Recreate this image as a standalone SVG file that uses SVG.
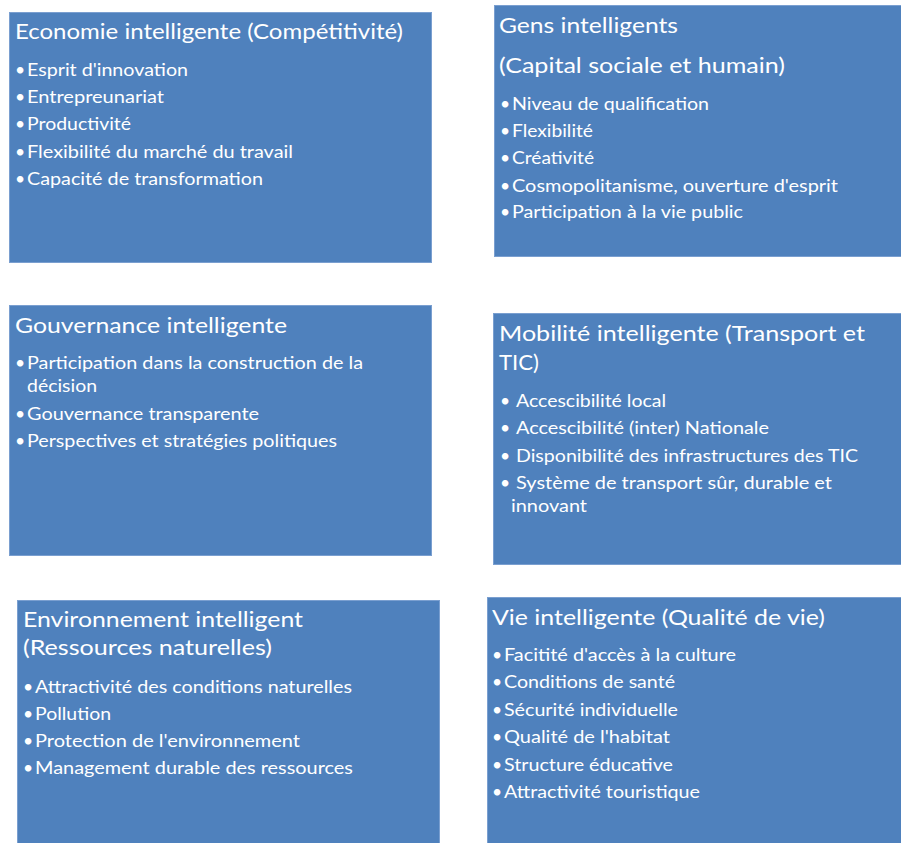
<svg xmlns="http://www.w3.org/2000/svg" width="901" height="843" viewBox="0 0 901 843">
<style>
.box{fill:#4F81BD;stroke:#7A9FD0;stroke-width:1}
.t{font-family:Lato,"Open Sans","Liberation Sans",sans-serif;font-size:21px;fill:#FFFFFF}
.b{font-family:Lato,"Open Sans","Liberation Sans",sans-serif;font-size:17.5px;fill:#FFFFFF}
</style>
<rect width="901" height="843" fill="#FFFFFF"/>
<g id="economie">
<rect class="box" x="9.5" y="12.5" width="422" height="250"/>
<text class="t" x="15" y="39" textLength="388" lengthAdjust="spacingAndGlyphs">Economie intelligente (Compétitivité)</text>
<text class="b" x="15" y="76">•</text><text class="b" x="27" y="76" textLength="161" lengthAdjust="spacingAndGlyphs">Esprit d'innovation</text>
<text class="b" x="15" y="103">•</text><text class="b" x="27" y="103" textLength="137" lengthAdjust="spacingAndGlyphs">Entrepreunariat</text>
<text class="b" x="15" y="130">•</text><text class="b" x="27" y="130" textLength="104" lengthAdjust="spacingAndGlyphs">Productivité</text>
<text class="b" x="15" y="158">•</text><text class="b" x="27" y="158" textLength="266" lengthAdjust="spacingAndGlyphs">Flexibilité du marché du travail</text>
<text class="b" x="15" y="185">•</text><text class="b" x="27" y="185" textLength="236" lengthAdjust="spacingAndGlyphs">Capacité de transformation</text>
</g>
<g id="gens">
<rect class="box" x="494.5" y="5.5" width="410" height="251"/>
<text class="t" x="499" y="33" textLength="179" lengthAdjust="spacingAndGlyphs">Gens intelligents</text>
<text class="t" x="499" y="73" textLength="286" lengthAdjust="spacingAndGlyphs">(Capital sociale et humain)</text>
<text class="b" x="500" y="110">•</text><text class="b" x="512" y="110" textLength="197" lengthAdjust="spacingAndGlyphs">Niveau de qualification</text>
<text class="b" x="500" y="137">•</text><text class="b" x="512" y="137" textLength="81" lengthAdjust="spacingAndGlyphs">Flexibilité</text>
<text class="b" x="500" y="164">•</text><text class="b" x="512" y="164" textLength="82" lengthAdjust="spacingAndGlyphs">Créativité</text>
<text class="b" x="500" y="192">•</text><text class="b" x="512" y="192" textLength="326" lengthAdjust="spacingAndGlyphs">Cosmopolitanisme, ouverture d'esprit</text>
<text class="b" x="500" y="218">•</text><text class="b" x="512" y="218" textLength="231" lengthAdjust="spacingAndGlyphs">Participation à la vie public</text>
</g>
<g id="gouvernance">
<rect class="box" x="9.5" y="305.5" width="422" height="250"/>
<text class="t" x="15" y="333" textLength="272" lengthAdjust="spacingAndGlyphs">Gouvernance intelligente</text>
<text class="b" x="15" y="369">•</text><text class="b" x="27" y="369" textLength="336" lengthAdjust="spacingAndGlyphs">Participation dans la construction de la</text>
<text class="b" x="27" y="392" textLength="70" lengthAdjust="spacingAndGlyphs">décision</text>
<text class="b" x="15" y="420">•</text><text class="b" x="27" y="420" textLength="232" lengthAdjust="spacingAndGlyphs">Gouvernance transparente</text>
<text class="b" x="15" y="447">•</text><text class="b" x="27" y="447" textLength="310" lengthAdjust="spacingAndGlyphs">Perspectives et stratégies politiques</text>
</g>
<g id="mobilite">
<rect class="box" x="493.5" y="313.5" width="410" height="251"/>
<text class="t" x="499" y="341" textLength="366" lengthAdjust="spacingAndGlyphs">Mobilité intelligente (Transport et</text>
<text class="t" x="499" y="370" textLength="40" lengthAdjust="spacingAndGlyphs">TIC)</text>
<text class="b" x="500" y="407">•</text><text class="b" x="516" y="407" textLength="150" lengthAdjust="spacingAndGlyphs">Accescibilité local</text>
<text class="b" x="500" y="434">•</text><text class="b" x="516" y="434" textLength="253" lengthAdjust="spacingAndGlyphs">Accescibilité (inter) Nationale</text>
<text class="b" x="500" y="462">•</text><text class="b" x="516" y="462" textLength="342" lengthAdjust="spacingAndGlyphs">Disponibilité des infrastructures des TIC</text>
<text class="b" x="500" y="489">•</text><text class="b" x="516" y="489" textLength="316" lengthAdjust="spacingAndGlyphs">Système de transport sûr, durable et</text>
<text class="b" x="511" y="512" textLength="76" lengthAdjust="spacingAndGlyphs">innovant</text>
</g>
<g id="environnement">
<rect class="box" x="17.5" y="600.5" width="422" height="250"/>
<text class="t" x="23" y="627" textLength="280" lengthAdjust="spacingAndGlyphs">Environnement intelligent</text>
<text class="t" x="23" y="655" textLength="249" lengthAdjust="spacingAndGlyphs">(Ressources naturelles)</text>
<text class="b" x="23" y="693">•</text><text class="b" x="35" y="693" textLength="317" lengthAdjust="spacingAndGlyphs">Attractivité des conditions naturelles</text>
<text class="b" x="23" y="720">•</text><text class="b" x="35" y="720" textLength="76" lengthAdjust="spacingAndGlyphs">Pollution</text>
<text class="b" x="23" y="747">•</text><text class="b" x="35" y="747" textLength="265" lengthAdjust="spacingAndGlyphs">Protection de l'environnement</text>
<text class="b" x="23" y="774">•</text><text class="b" x="35" y="774" textLength="318" lengthAdjust="spacingAndGlyphs">Management durable des ressources</text>
</g>
<g id="vie">
<rect class="box" x="487.5" y="597.5" width="420" height="260"/>
<text class="t" x="492" y="625" textLength="333" lengthAdjust="spacingAndGlyphs">Vie intelligente (Qualité de vie)</text>
<text class="b" x="492" y="661">•</text><text class="b" x="504" y="661" textLength="232" lengthAdjust="spacingAndGlyphs">Facitité d'accès à la culture</text>
<text class="b" x="492" y="688">•</text><text class="b" x="504" y="688" textLength="171" lengthAdjust="spacingAndGlyphs">Conditions de santé</text>
<text class="b" x="492" y="716">•</text><text class="b" x="504" y="716" textLength="174" lengthAdjust="spacingAndGlyphs">Sécurité individuelle</text>
<text class="b" x="492" y="743">•</text><text class="b" x="504" y="743" textLength="166" lengthAdjust="spacingAndGlyphs">Qualité de l'habitat</text>
<text class="b" x="492" y="771">•</text><text class="b" x="504" y="771" textLength="169" lengthAdjust="spacingAndGlyphs">Structure éducative</text>
<text class="b" x="492" y="798">•</text><text class="b" x="504" y="798" textLength="196" lengthAdjust="spacingAndGlyphs">Attractivité touristique</text>
</g>
<g id="connectors"/>
</svg>
